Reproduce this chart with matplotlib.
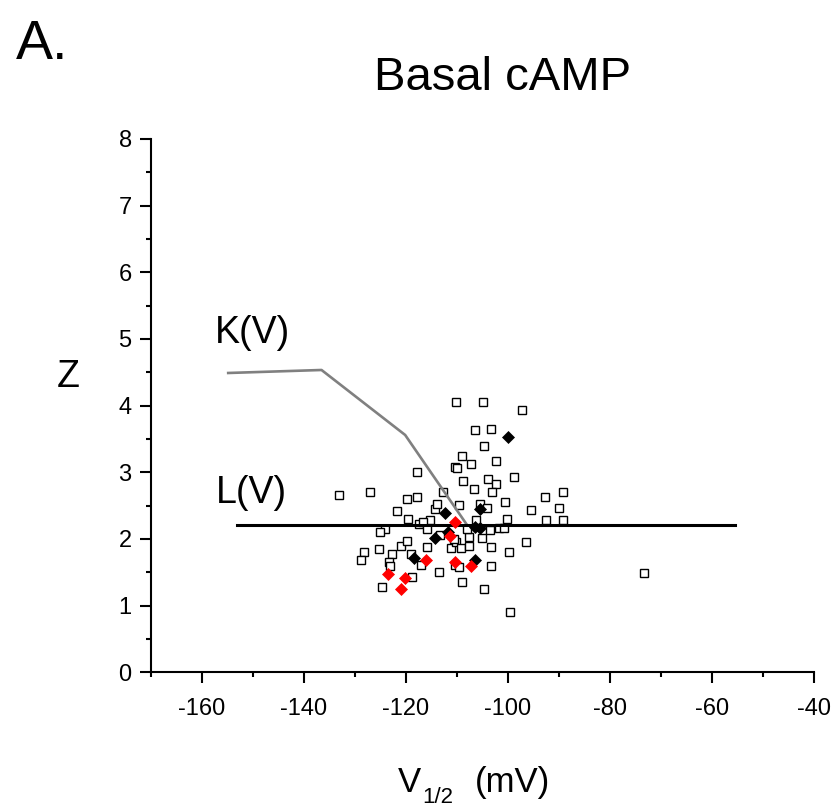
import matplotlib
matplotlib.use("Agg")
import matplotlib.pyplot as plt
from matplotlib.ticker import MultipleLocator

plt.rcParams['font.family'] = ['Liberation Sans', 'DejaVu Sans']
plt.rcParams['axes.unicode_minus'] = False

# open squares (individual cells)
sq_x = [-133.0, -127.0, -121.8, -124.1, -125.0, -120.9, -125.2, -128.1, -128.8, -122.7,
        -123.2, -123.1, -124.6, -119.7, -117.7, -117.8, -114.3, -113.9, -112.6, -119.6,
        -115.2, -117.4, -116.7, -115.9, -113.3, -119.8, -115.9, -119.0, -117.0, -113.5,
        -118.8, -111.1, -110.1, -109.2, -110.3, -109.6, -109.0, -104.7, -107.5, -107.5,
        -105.0, -103.3, -103.3, -99.7, -96.5, -99.5, -73.3, -107.9, -106.2, -103.4,
        -101.7, -100.7, -100.1, -110.1, -104.8, -97.2, -106.5, -103.3, -104.6, -108.9,
        -107.2, -110.3, -110.0, -102.3, -108.8, -106.7, -103.9, -102.3, -103.1, -98.7,
        -100.6, -109.5, -105.4, -104.0, -92.6, -89.2, -95.4, -90.0, -92.4, -89.2,
        -110.6]
sq_y = [2.66, 2.70, 2.42, 2.15, 2.10, 1.90, 1.85, 1.80, 1.69, 1.78,
        1.65, 1.59, 1.28, 2.60, 2.63, 3.00, 2.45, 2.53, 2.70, 2.30,
        2.29, 2.22, 2.25, 2.15, 2.06, 1.97, 1.88, 1.77, 1.61, 1.51,
        1.43, 1.86, 1.95, 1.87, 1.61, 1.58, 1.36, 1.25, 2.03, 1.90,
        2.02, 1.88, 1.60, 1.81, 1.96, 0.91, 1.49, 2.15, 2.29, 2.14,
        2.16, 2.16, 2.30, 4.05, 4.06, 3.93, 3.63, 3.65, 3.39, 3.24,
        3.12, 3.08, 3.06, 3.17, 2.87, 2.75, 2.90, 2.83, 2.71, 2.93,
        2.55, 2.51, 2.52, 2.47, 2.63, 2.71, 2.44, 2.47, 2.28, 2.28,
        2.00]

# filled black diamonds
blk_x = [-99.9, -105.5, -112.2, -111.7, -106.5, -105.4, -114.3, -118.4, -106.35]
blk_y = [3.53, 2.45, 2.39, 2.11, 2.175, 2.17, 2.02, 1.71, 1.69]

# filled red diamonds
red_x = [-110.4, -111.3, -116.1, -110.4, -107.2, -123.4, -120.1, -121.0]
red_y = [2.25, 2.04, 1.69, 1.66, 1.59, 1.48, 1.42, 1.25]

# K(V) and L(V) curves
k_x = [-154.8, -136.5, -120.1, -108.1]
k_y = [4.49, 4.535, 3.56, 2.225]
l_x = [-153.1, -55.5]
l_y = [2.215, 2.215]

fig = plt.figure(figsize=(8.38, 8.08), dpi=100)
ax = fig.add_axes([0.1798, 0.1679, 0.7912, 0.6601])

ax.plot(sq_x, sq_y, 's', ms=6.0, mfc='white', mec='black', mew=1.0, zorder=2)
ax.plot(k_x, k_y, '-', color='#808080', lw=1.9, zorder=3)
ax.plot(l_x, l_y, '-', color='black', lw=2.2, zorder=3)
ax.plot(blk_x, blk_y, 'D', ms=6.4, mfc='black', mec='black', mew=0.5, zorder=4)
ax.plot(red_x, red_y, 'D', ms=6.4, mfc='red', mec='red', mew=0.5, zorder=4)

ax.set_xlim(-170, -40)
ax.set_ylim(0, 8)
ax.xaxis.set_major_locator(MultipleLocator(20))
ax.xaxis.set_minor_locator(MultipleLocator(10))
ax.yaxis.set_major_locator(MultipleLocator(1))
ax.yaxis.set_minor_locator(MultipleLocator(0.5))
ax.set_xticks([-160, -140, -120, -100, -80, -60, -40])

for s in ['top', 'right']:
    ax.spines[s].set_visible(False)
for s in ['left', 'bottom']:
    ax.spines[s].set_linewidth(1.5)

ax.tick_params(which='major', direction='out', length=7.7, width=1.5, labelsize=17)
ax.tick_params(which='minor', direction='out', length=3.6, width=1.5)
ax.tick_params(axis='x', which='major', pad=11)
ax.tick_params(axis='y', which='major', pad=6)

ax.text(-157.4, 4.945, "K(V)", fontsize=27, va='baseline', ha='left')
ax.text(-157.3, 2.545, "L(V)", fontsize=27, va='baseline', ha='left')

# axis labels and titles in figure coords
fig.text(68 / 838, 1 - 377 / 808, "Z", fontsize=27, ha='center', va='center')
fig.text(398 / 838, 1 - 791.7 / 808, "V", fontsize=25, ha='left', va='baseline')
fig.text(422.7 / 838, 1 - 802.7 / 808, "1/2", fontsize=16, ha='left', va='baseline')
fig.text(475 / 838, 1 - 791.7 / 808, "(mV)", fontsize=25, ha='left', va='baseline')

fig.text(503 / 838, 1 - 89.9 / 808, "Basal cAMP", fontsize=34, ha='center', va='baseline')
fig.text(16 / 838, 1 - 59 / 808, "A.", fontsize=40, ha='left', va='baseline')

fig.savefig("out.png", dpi=100)
